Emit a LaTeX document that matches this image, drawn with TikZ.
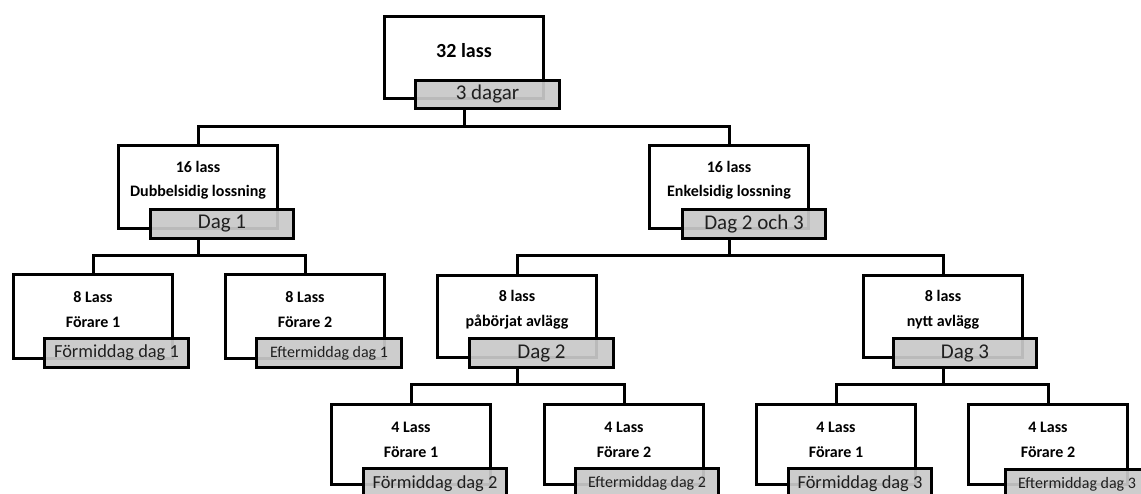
\documentclass[tikz,border=0pt]{standalone}
\usepackage{fontspec}
\setmainfont{Carlito}
\definecolor{tagfill}{RGB}{201,201,201}
\tikzset{
  box/.style={draw, line width=3pt, fill=white, minimum width=159pt, minimum height=83pt, inner sep=0pt, anchor=north west},
  tag/.style={draw, line width=3pt, fill=tagfill, fill opacity=0.93, text opacity=1, minimum width=143pt, minimum height=29pt, inner sep=0pt, anchor=north west, text=black!88},
  big/.style={font=\fontsize{21}{24}\selectfont},
  mid/.style={font=\fontsize{18.4}{22}\selectfont},
  sml/.style={font=\fontsize{16}{20}\selectfont},
  ttl/.style={align=center, inner sep=0pt, font=\bfseries\fontsize{16}{24.5}\selectfont},
  conn/.style={line width=3pt, line join=miter}
}
\begin{document}
\begin{tikzpicture}[x=1pt, y=-1pt]
\clip (0,0) rectangle (1141,493);
% level 0
\node[box, minimum height=82pt] (L0) at (383,15) {};
\node[tag, big, minimum width=144pt, minimum height=28pt] (L0t) at (414,79) {3 dagar};
\node[ttl, font=\bfseries\fontsize{20}{24}\selectfont] (L0x) at ([yshift=-36pt]L0.north) {32 lass};
% level 1
\node[box] (A) at (117,144) {};
\node[tag, big] (At) at (149,208) {Dag 1};
\node[ttl] (Ax) at ([yshift=-36pt]A.north) {16 lass\\Dubbelsidig lossning};
\node[box] (B) at (648,144) {};
\node[tag, big] (Bt) at (681,208) {Dag 2 och 3};
\node[ttl] (Bx) at ([yshift=-36pt]B.north) {16 lass\\Enkelsidig lossning};
% level 2
\node[box, minimum height=84pt] (AA) at (12,273) {};
\node[tag, mid, minimum width=144pt] (AAt) at (43,337) {Förmiddag dag 1};
\node[ttl] (AAx) at ([yshift=-36.5pt]AA.north) {8 Lass\\Förare 1};
\node[box, minimum height=84pt] (AB) at (224,273) {};
\node[tag, sml, minimum width=145pt] (ABt) at (255,337) {Eftermiddag dag 1};
\node[ttl] (ABx) at ([yshift=-36.5pt]AB.north) {8 Lass\\Förare 2};
\node[box, minimum height=82pt] (BA) at (436,274) {};
\node[tag, big, minimum width=144pt] (BAt) at (468,337) {Dag 2};
\node[ttl] (BAx) at ([yshift=-35.5pt]BA.north) {8 lass\\påbörjat avlägg};
\node[box, minimum height=82pt] (BB) at (862,274) {};
\node[tag, big] (BBt) at (892,337) {Dag 3};
\node[ttl] (BBx) at ([yshift=-35.5pt]BB.north) {8 lass\\nytt avlägg};
% level 3
\node[box, minimum height=80pt] (C1) at (330,403) {};
\node[tag, mid, minimum height=30pt] (C1t) at (362,467) {Förmiddag dag 2};
\node[ttl] (C1x) at ([yshift=-37pt]C1.north) {4 Lass\\Förare 1};
\node[box, minimum height=80pt] (C2) at (543,403) {};
\node[tag, sml, minimum height=30pt] (C2t) at (574,467) {Eftermiddag dag 2};
\node[ttl] (C2x) at ([yshift=-37pt]C2.north) {4 Lass\\Förare 2};
\node[box, minimum height=80pt] (C3) at (755,403) {};
\node[tag, mid, minimum height=30pt] (C3t) at (787,467) {Förmiddag dag 3};
\node[ttl] (C3x) at ([yshift=-37pt]C3.north) {4 Lass\\Förare 1};
\node[box, minimum height=80pt] (C4) at (967,403) {};
\node[tag, sml, minimum height=30pt] (C4t) at (1004,468) {Eftermiddag dag 3};
\node[ttl] (C4x) at ([yshift=-37pt]C4.north) {4 Lass\\Förare 2};
% connectors
\coordinate (y0) at (0,126);
\coordinate (y1) at (0,255);
\coordinate (y2) at (0,384);
\draw[conn] (L0.south |- L0t.south) -- (L0.south |- y0);
\draw[conn] (A.north) |- (L0.south |- y0) -| (B.north);
\draw[conn] (A.south |- At.south) -- (A.south |- y1);
\draw[conn] (AA.north) |- (A.south |- y1) -| (AB.north);
\draw[conn] (B.south |- Bt.south) -- (B.south |- y1);
\draw[conn] (BA.north) |- (B.south |- y1) -| (BB.north);
\draw[conn] (BA.south |- BAt.south) -- (BA.south |- y2);
\draw[conn] (C1.north) |- (BA.south |- y2) -| (C2.north);
\draw[conn] (BB.south |- BBt.south) -- (BB.south |- y2);
\draw[conn] (C3.north) |- (BB.south |- y2) -| (C4.north);
\end{tikzpicture}
\end{document}
